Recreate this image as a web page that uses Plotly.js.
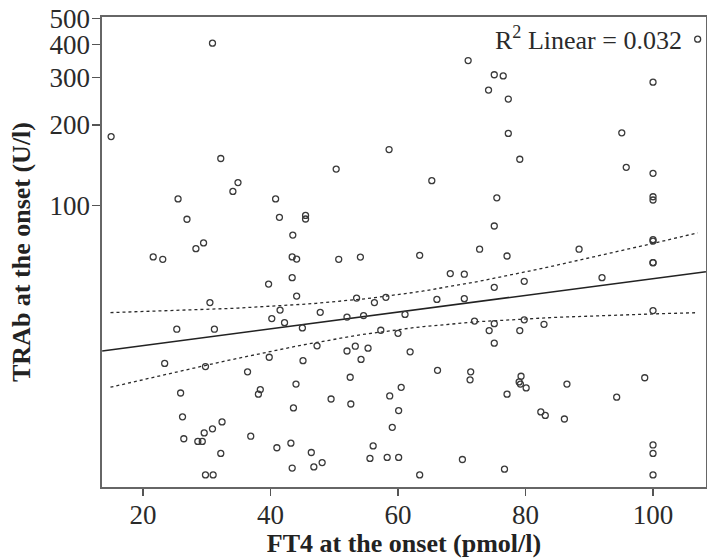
<!DOCTYPE html>
<html>
<head>
<meta charset="utf-8">
<script src="https://cdn.plot.ly/plotly-3.0.1.min.js"></script>
<style>
  html, body { margin: 0; padding: 0; background: #fff; }
  #chart { width: 707px; height: 558px; }
</style>
</head>
<body>
<div id="chart"></div>
<script>
// FT4 at the onset (pmol/l)
const ft4 = [
  30.9, 15.0, 32.2, 34.9, 34.1, 25.5, 40.8, 26.9, 41.4, 45.5,
  45.5, 43.5, 29.5, 28.3, 21.6, 23.1, 43.4, 44.1, 71.0, 75.1,
  76.5, 74.2, 77.3, 77.3, 79.1, 58.6, 50.3, 65.3, 75.5, 75.1,
  72.8, 50.7, 54.1, 63.4, 107.0, 100, 95.1, 95.8, 100, 100,
  100, 100, 100, 88.4, 77.1, 43.4, 39.7, 44.1, 30.5, 41.5,
  40.2, 42.2, 45.0, 25.3, 31.2, 39.8, 45.1, 23.4, 29.8, 36.4,
  38.4, 38.1, 44.0, 25.9, 43.6, 26.2, 32.4, 30.9, 29.6, 26.4,
  28.6, 29.3, 36.9, 43.2, 41.0, 32.2, 43.4, 29.8, 31.0, 68.2,
  70.4, 75.1, 53.5, 58.1, 56.3, 66.1, 70.4, 47.8, 52.0, 54.6,
  61.1, 57.3, 60.0, 72.0, 75.1, 74.3, 75.1, 47.3, 52.0, 53.3,
  55.3, 54.2, 61.9, 52.5, 66.2, 71.4, 71.3, 49.5, 52.6, 58.7,
  60.5, 60.1, 59.1, 56.1, 46.4, 46.8, 48.1, 55.6, 58.3, 60.1,
  70.1, 63.4, 77.1, 76.7, 100, 100, 79.8, 92.0, 100, 79.8,
  82.9, 79.1, 79.3, 79.0, 79.2, 80.1, 86.5, 98.7, 94.3, 82.4,
  83.1, 86.1, 100, 100, 100
];
// TRAb at the onset (U/l)
const trab = [
  404, 181, 150, 122, 113, 106, 106, 89, 90.5, 92,
  89.2, 77.7, 72.6, 69.1, 64.4, 63.1, 64.4, 63.2, 348, 308,
  305, 270, 250, 186, 149, 162, 137, 124, 107, 84,
  68.8, 63.1, 64.3, 65.3, 418, 289, 187, 139, 132, 108,
  105, 74.7, 73.8, 68.8, 64.9, 53.9, 51.0, 46.0, 43.5, 40.8,
  37.9, 36.6, 35.0, 34.6, 34.6, 27.2, 26.4, 25.8, 25.1, 24.0,
  20.6, 19.8, 21.6, 20.0, 17.6, 16.3, 15.6, 14.7, 14.2, 13.5,
  13.2, 13.2, 13.8, 13.0, 12.5, 11.9, 10.5, 9.9, 9.9, 55.8,
  55.5, 49.6, 45.2, 45.5, 43.5, 44.7, 45.0, 40.0, 38.4, 38.9,
  39.3, 34.3, 33.4, 37.1, 36.3, 34.2, 30.7, 30.0, 28.7, 29.9,
  29.4, 26.7, 28.5, 22.9, 24.3, 24.0, 22.4, 19.0, 18.2, 19.5,
  21.0, 17.2, 14.9, 12.7, 12.0, 10.6, 11.0, 11.4, 11.5, 11.5,
  11.3, 9.9, 19.8, 10.4, 61.3, 61.3, 52.2, 53.9, 40.6, 37.5,
  36.1, 34.2, 23.1, 22.0, 21.6, 20.9, 21.6, 22.8, 19.3, 17.0,
  16.5, 16.0, 12.8, 11.9, 9.9
];

// Tick values / labels
const yTickVals = [100, 200, 300, 400, 500];
const yTickText = ['100', '200', '300', '400', '500'];
const xTickVals = [20, 40, 60, 80, 100];

// Fit (log10 TRAb = a + b * FT4) and 95% CI of mean
const fitIntercept = 1.4154;
const fitSlope = 0.003124;
const fitXRange = [13.6, 108.3];
const ciXRange = [14.9, 107.0];
const ciCenter = 59;
const ciHalfMin = 0.065;
const ciSpread = 0.00279;
const rSquared = 0.032;

function fitLog(x) { return fitIntercept + fitSlope * x; }
function ciHalf(x) { return Math.sqrt(ciHalfMin * ciHalfMin + Math.pow(ciSpread * (x - ciCenter), 2)); }

const fitX = fitXRange.slice();
const fitY = fitX.map(x => Math.pow(10, fitLog(x)));
const ciX = [], ciUp = [], ciLo = [];
const nCi = 60;
for (let i = 0; i <= nCi; i++) {
  const x = ciXRange[0] + (ciXRange[1] - ciXRange[0]) * i / nCi;
  ciX.push(x);
  ciUp.push(Math.pow(10, fitLog(x) + ciHalf(x)));
  ciLo.push(Math.pow(10, fitLog(x) - ciHalf(x)));
}

const serif = 'Liberation Serif, Times New Roman, serif';
const ink = '#2a2a2a';

const traces = [
  {
    x: ciX, y: ciUp, mode: 'lines', type: 'scatter', hoverinfo: 'skip',
    line: { color: ink, width: 1.3, dash: '3px,3px' }
  },
  {
    x: ciX, y: ciLo, mode: 'lines', type: 'scatter', hoverinfo: 'skip',
    line: { color: ink, width: 1.3, dash: '3px,3px' }
  },
  {
    x: fitX, y: fitY, mode: 'lines', type: 'scatter', hoverinfo: 'skip',
    line: { color: '#222222', width: 1.6 }
  },
  {
    x: ft4, y: trab, mode: 'markers', type: 'scatter',
    marker: { symbol: 'circle-open', size: 6, color: '#3a3a3a', line: { width: 1.3, color: '#3a3a3a' } }
  }
];

const layout = {
  width: 707, height: 558,
  margin: { l: 102, r: 1, t: 17, b: 71 },
  paper_bgcolor: '#ffffff', plot_bgcolor: '#ffffff',
  showlegend: false,
  font: { family: serif, color: ink, size: 27 },
  xaxis: {
    range: [13.57, 108.31],
    tickvals: xTickVals,
    ticks: 'outside', ticklen: 7, tickwidth: 1.3, tickcolor: '#555',
    ticklabelstandoff: -4,
    showgrid: false, zeroline: false,
    showline: true, linecolor: '#666', linewidth: 1.6, mirror: true,
    tickfont: { family: serif, size: 27, color: ink },
    title: { text: '<b>FT4 at the onset (pmol/l)</b>', font: { family: serif, size: 26, color: '#222' }, standoff: 4 }
  },
  yaxis: {
    type: 'log',
    range: [0.9504, 2.704],
    tickvals: yTickVals, ticktext: yTickText,
    ticks: 'outside', ticklen: 8, tickwidth: 1.3, tickcolor: '#555',
    ticklabelstandoff: -3,
    showgrid: false, zeroline: false,
    showline: true, linecolor: '#666', linewidth: 1.6, mirror: true,
    tickfont: { family: serif, size: 27, color: ink },
    title: { text: '<b>TRAb at the onset (U/l)</b>', font: { family: serif, size: 26, color: '#222' }, standoff: 11 }
  },
  annotations: [
    {
      xref: 'paper', yref: 'paper', x: 0.963, y: 0.955,
      xanchor: 'right', yanchor: 'middle', showarrow: false,
      text: 'R<sup>2</sup> Linear = ' + rSquared.toFixed(3),
      font: { family: serif, size: 26, color: ink }
    }
  ]
};

Plotly.newPlot('chart', traces, layout, { displayModeBar: false, staticPlot: true });
</script>
</body>
</html>
